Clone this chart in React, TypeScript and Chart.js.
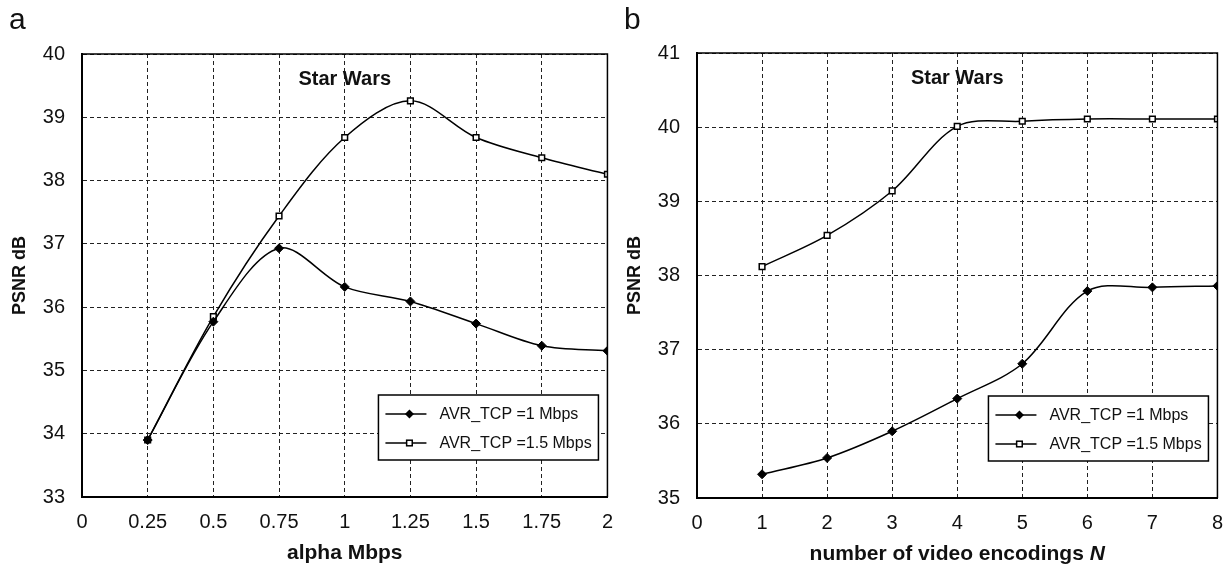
import React, { useEffect, useRef } from 'react';
import { Chart, registerables } from 'chart.js';

Chart.register(...registerables);

// ---------- data ----------
const alphaValues = [0.25, 0.5, 0.75, 1, 1.25, 1.5, 1.75, 2];
const psnrAlpha1Mbps = [33.9, 35.77, 36.93, 36.32, 36.09, 35.74, 35.39, 35.31];
const psnrAlpha15Mbps = [33.9, 35.85, 37.44, 38.68, 39.26, 38.68, 38.36, 38.1];
const alphaTickLabels = ['0', '0.25', '0.5', '0.75', '1', '1.25', '1.5', '1.75', '2'];
const psnrTickLabelsA = ['33', '34', '35', '36', '37', '38', '39', '40'];

const encodingCounts = [1, 2, 3, 4, 5, 6, 7, 8];
const psnrN1Mbps = [35.32, 35.54, 35.9, 36.34, 36.81, 37.79, 37.84, 37.86];
const psnrN15Mbps = [38.12, 38.54, 39.14, 40.01, 40.08, 40.11, 40.11, 40.11];
const encodingTickLabels = ['0', '1', '2', '3', '4', '5', '6', '7', '8'];
const psnrTickLabelsB = ['35', '36', '37', '38', '39', '40', '41'];

const seriesNames = ['AVR_TCP =1 Mbps', 'AVR_TCP =1.5 Mbps'];
const movieTitle = 'Star Wars';
const yTitle = 'PSNR dB';
const xTitleA = 'alpha Mbps';
const xTitleBMain = 'number of video encodings ';
const xTitleBItalic = 'N';
const panelLetters = ['a', 'b'];

const FONT = '"Liberation Sans", Arial, Helvetica, sans-serif';

type PanelCfg = {
  xs: number[];
  s1: number[];
  s15: number[];
  xMin: number;
  xMax: number;
  xStep: number;
  xLabels: string[];
  yMin: number;
  yMax: number;
  yLabels: string[];
  padTop: number;
  xAxisHeight: number;
  letter: string;
  letterX: number;
  xTitle: string | null;
};

const decorPlugin = {
  id: 'panelDecor',
  afterDraw(chart: any, _args: any, opts: any) {
    const ctx = chart.ctx as CanvasRenderingContext2D;
    const ca = chart.chartArea;
    ctx.save();
    // frame top & right
    ctx.strokeStyle = '#000';
    ctx.lineWidth = 1.5;
    ctx.beginPath();
    ctx.moveTo(ca.left, ca.top);
    ctx.lineTo(ca.right, ca.top);
    ctx.lineTo(ca.right, ca.bottom);
    ctx.stroke();

    // Star Wars
    ctx.fillStyle = '#111';
    ctx.font = `bold 20px ${FONT}`;
    ctx.textAlign = 'center';
    ctx.textBaseline = 'middle';
    ctx.fillText(movieTitle, (ca.left + ca.right) / 2, ca.top + 25);

    // legend
    const bw = 220;
    const bh = 65;
    const bx = ca.right - 9 - bw;
    const by = ca.bottom - 37 - bh;
    ctx.fillStyle = '#fff';
    ctx.fillRect(bx, by, bw, bh);
    ctx.strokeStyle = '#000';
    ctx.lineWidth = 1.5;
    ctx.strokeRect(bx, by, bw, bh);
    const rows = [by + 19, by + 48];
    chart.data.datasets.forEach((ds: any, i: number) => {
      const y = rows[i];
      ctx.strokeStyle = '#000';
      ctx.lineWidth = 1.5;
      ctx.beginPath();
      ctx.moveTo(bx + 7, y);
      ctx.lineTo(bx + 48, y);
      ctx.stroke();
      const cx = bx + 31;
      if (ds.pointStyle === 'rectRot') {
        const r = 4.5;
        ctx.fillStyle = '#000';
        ctx.beginPath();
        ctx.moveTo(cx, y - r);
        ctx.lineTo(cx + r, y);
        ctx.lineTo(cx, y + r);
        ctx.lineTo(cx - r, y);
        ctx.closePath();
        ctx.fill();
      } else {
        const h = 2.8;
        ctx.fillStyle = '#fff';
        ctx.fillRect(cx - h, y - h, 2 * h, 2 * h);
        ctx.strokeStyle = '#000';
        ctx.lineWidth = 1.5;
        ctx.strokeRect(cx - h, y - h, 2 * h, 2 * h);
      }
      ctx.fillStyle = '#111';
      ctx.font = `16px ${FONT}`;
      ctx.textAlign = 'left';
      ctx.textBaseline = 'middle';
      ctx.fillText(ds.label, bx + 61, y + 1);
    });

    // panel letter
    ctx.fillStyle = '#111';
    ctx.font = `30px ${FONT}`;
    ctx.textAlign = 'left';
    ctx.textBaseline = 'alphabetic';
    ctx.fillText(opts.letter, opts.letterX, 29);

    // mixed-style x title (panel b)
    if (opts.mixedTitle) {
      ctx.textBaseline = 'middle';
      ctx.font = `bold 21px ${FONT}`;
      const w1 = ctx.measureText(xTitleBMain).width;
      ctx.font = `italic bold 21px ${FONT}`;
      const w2 = ctx.measureText(xTitleBItalic).width;
      const x0 = (ca.left + ca.right) / 2 - (w1 + w2) / 2;
      const ty = 554;
      ctx.font = `bold 21px ${FONT}`;
      ctx.fillText(xTitleBMain, x0, ty);
      ctx.font = `italic bold 21px ${FONT}`;
      ctx.fillText(xTitleBItalic, x0 + w1, ty);
    }
    ctx.restore();
  },
};

function makeChart(canvas: HTMLCanvasElement, cfg: PanelCfg) {
  const gridCommon = {
    color: '#222',
    lineWidth: 1,
    drawTicks: false,
    drawOnChartArea: true,
  };
  return new Chart(canvas, {
    type: 'line',
    data: {
      datasets: [
        {
          label: seriesNames[0],
          data: cfg.xs.map((x, i) => ({ x, y: cfg.s1[i] })),
          borderColor: '#000',
          borderWidth: 1.5,
          pointStyle: 'rectRot',
          pointRadius: 4.5,
          pointBackgroundColor: '#000',
          pointBorderColor: '#000',
          pointBorderWidth: 1,
          tension: 0.33,
          fill: false,
        },
        {
          label: seriesNames[1],
          data: cfg.xs.map((x, i) => ({ x, y: cfg.s15[i] })),
          borderColor: '#000',
          borderWidth: 1.5,
          pointStyle: 'rect',
          pointRadius: 4,
          pointBackgroundColor: '#fff',
          pointBorderColor: '#000',
          pointBorderWidth: 1.5,
          tension: 0.33,
          fill: false,
        },
      ],
    },
    options: {
      responsive: false,
      animation: false,
      events: [],
      layout: { padding: { left: 0, top: cfg.padTop, right: 0, bottom: 0 } },
      plugins: {
        legend: { display: false },
        tooltip: { enabled: false },
        title: { display: false },
        panelDecor: { letter: cfg.letter, letterX: cfg.letterX, mixedTitle: cfg.xTitle === null },
      } as any,
      scales: {
        x: {
          type: 'linear',
          min: cfg.xMin,
          max: cfg.xMax,
          afterFit: (s: any) => {
            s.height = cfg.xAxisHeight;
          },
          ticks: {
            stepSize: cfg.xStep,
            autoSkip: false,
            maxRotation: 0,
            padding: 13,
            color: '#111',
            font: { family: FONT, size: 20 },
            callback: (_v: any, i: number) => cfg.xLabels[i],
          },
          grid: gridCommon,
          border: { display: true, color: '#000', width: 2, dash: [4, 3] },
          title: {
            display: cfg.xTitle !== null,
            text: cfg.xTitle || '',
            color: '#111',
            font: { family: FONT, size: 21, weight: 'bold' },
            padding: { top: 0, bottom: 0 },
          },
        },
        y: {
          type: 'linear',
          min: cfg.yMin,
          max: cfg.yMax,
          afterFit: (s: any) => {
            s.width = 82;
          },
          ticks: {
            stepSize: 1,
            autoSkip: false,
            padding: 17,
            color: '#111',
            font: { family: FONT, size: 20 },
            callback: (_v: any, i: number) => cfg.yLabels[i],
          },
          grid: gridCommon,
          border: { display: true, color: '#000', width: 2, dash: [4, 3] },
          title: {
            display: true,
            text: yTitle,
            color: '#111',
            font: { family: FONT, size: 18, weight: 'bold' },
            padding: { top: 9, bottom: 0 },
          },
        },
      },
    } as any,
    plugins: [decorPlugin],
  });
}

function Panel({ cfg, left, width }: { cfg: PanelCfg; left: number; width: number }) {
  const ref = useRef<HTMLCanvasElement | null>(null);
  useEffect(() => {
    if (!ref.current) return;
    const chart = makeChart(ref.current, cfg);
    return () => chart.destroy();
  }, []);
  return (
    <canvas
      ref={ref}
      width={width}
      height={566}
      style={{ position: 'absolute', left, top: 0, width, height: 566, display: 'block' }}
    />
  );
}

const panelA: PanelCfg = {
  xs: alphaValues,
  s1: psnrAlpha1Mbps,
  s15: psnrAlpha15Mbps,
  xMin: 0,
  xMax: 2,
  xStep: 0.25,
  xLabels: alphaTickLabels,
  yMin: 33,
  yMax: 40,
  yLabels: psnrTickLabelsA,
  padTop: 54,
  xAxisHeight: 69,
  letter: panelLetters[0],
  letterX: 9,
  xTitle: xTitleA,
};

const panelB: PanelCfg = {
  xs: encodingCounts,
  s1: psnrN1Mbps,
  s15: psnrN15Mbps,
  xMin: 0,
  xMax: 8,
  xStep: 1,
  xLabels: encodingTickLabels,
  yMin: 35,
  yMax: 41,
  yLabels: psnrTickLabelsB,
  padTop: 53,
  xAxisHeight: 68,
  letter: panelLetters[1],
  letterX: 9,
  xTitle: null,
};

export default function App() {
  return (
    <div
      style={{
        position: 'absolute',
        left: 0,
        top: 0,
        width: 1230,
        height: 566,
        background: '#fff',
        overflow: 'hidden',
      }}
    >
      <Panel cfg={panelA} left={0} width={626} />
      <Panel cfg={panelB} left={615} width={621} />
    </div>
  );
}
